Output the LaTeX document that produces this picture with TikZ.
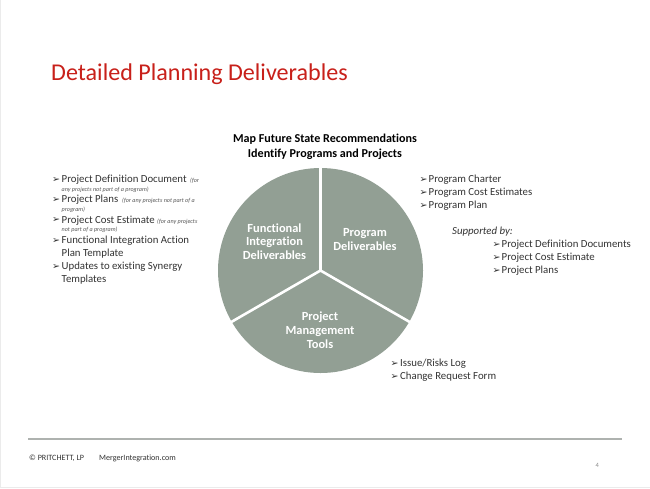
\documentclass[tikz,border=0pt]{standalone}
\usepackage{fontspec}
\usetikzlibrary{calc}
\setmainfont{Carlito}[Ligatures=NoCommon]
\newfontfamily\bulletfont{DejaVu Sans}
\definecolor{pie}{HTML}{929F94}
\definecolor{titlered}{HTML}{C8201A}
\definecolor{bodytext}{HTML}{333333}
\definecolor{notetext}{HTML}{555555}
\definecolor{rulegray}{HTML}{AEB2AF}
\newcommand{\arrowmark}{{\bulletfont\fontsize{9.5}{9.5}\selectfont\char"27A2}}
\tikzset{x=1pt,y=-1pt,
 listitem/.style={anchor=base west,inner sep=0pt,text=bodytext,font=\fontsize{10.8}{12}\selectfont},
 tiny note/.style={anchor=base west,inner sep=0pt,text=notetext,font=\fontsize{6.1}{8}\selectfont\itshape},
 wedge label/.style={align=center,text=white,font=\fontsize{12.4}{13.8}\selectfont\bfseries,inner sep=0pt},
 heading/.style={align=center,text=black,font=\fontsize{12.1}{15}\selectfont\bfseries,inner sep=0pt},
 foot/.style={anchor=base west,inner sep=0pt,text=bodytext,font=\fontsize{8.1}{9}\selectfont},
 divider/.style={draw=white,line width=2.6pt}}
\begin{document}
\begin{tikzpicture}
\useasboundingbox (0,0) rectangle (650,488);
\fill[white] (0,0) rectangle (650,488);
\draw[draw=black!8,line width=0.8pt] (0.4,-1) -- (0.4,487.5) -- (651,487.5);
\node[anchor=base west,inner sep=0pt,text=titlered,font=\fontsize{24.1}{28}\selectfont] (title) at (51,80.5) {Detailed Planning Deliverables};
\node[heading] (head) at (325,146.5) {Map Future State Recommendations\\Identify Programs and Projects};
% pie
\coordinate (hub) at (320.5,270.5);
\fill[pie] (hub) circle (102.5);
\coordinate (spokeA) at ($(hub)+(0,-104)$);
\coordinate (spokeB) at ($(hub)+(90.1,52)$);
\coordinate (spokeC) at ($(hub)+(-90.1,52)$);
\draw[divider] (hub) -- (spokeA);
\draw[divider] (hub) -- (spokeB);
\draw[divider] (hub) -- (spokeC);
\node[wedge label] (func) at (274.5,241.5) {Functional\\Integration\\Deliverables};
\node[wedge label] (prog) at (365,239.5) {Program\\Deliverables};
\node[wedge label] (tools) at (320,330) {Project\\Management\\Tools};
% left list
\node[listitem] (l1m) at (52,182) {\arrowmark};
\node[listitem] (l1) at (61.5,182) {Project Definition Document};
\node[tiny note] (l1n) at (190,182) {(for};
\node[tiny note] (l1b) at (61.5,191.5) {any projects not part of a program)};
\node[listitem] (l2m) at (52,202) {\arrowmark};
\node[listitem] (l2) at (61.5,202.5) {Project Plans};
\node[tiny note] (l2n) at (122,202.5) {(for any projects not part of a};
\node[tiny note] (l2b) at (61.5,211.5) {program)};
\node[listitem] (l3m) at (52,222.5) {\arrowmark};
\node[listitem] (l3) at (61.5,223) {Project Cost Estimate};
\node[tiny note] (l3n) at (157,223) {(for any projects};
\node[tiny note] (l3b) at (61.5,231.5) {not part of a program)};
\node[listitem] (l4m) at (52,243) {\arrowmark};
\node[listitem] (l4) at (61.5,243.5) {Functional Integration Action};
\node[listitem] (l4b) at (61.5,256.5) {Plan Template};
\node[listitem] (l5m) at (52,269) {\arrowmark};
\node[listitem] (l5) at (61.5,269.5) {Updates to existing Synergy};
\node[listitem] (l5b) at (61.5,282.5) {Templates};
% right list
\node[listitem] (r1m) at (419.5,182) {\arrowmark};
\node[listitem] (r1) at (428.5,182) {Program Charter};
\node[listitem] (r2m) at (419.5,195) {\arrowmark};
\node[listitem] (r2) at (428.5,195) {Program Cost Estimates};
\node[listitem] (r3m) at (419.5,208) {\arrowmark};
\node[listitem] (r3) at (428.5,208) {Program Plan};
\node[listitem,font=\fontsize{10.8}{12}\selectfont\itshape] (sup) at (452,234) {Supported by:};
\node[listitem] (s1m) at (492.5,247) {\arrowmark};
\node[listitem] (s1) at (501.5,247) {Project Definition Documents};
\node[listitem] (s2m) at (492.5,260) {\arrowmark};
\node[listitem] (s2) at (501.5,260) {Project Cost Estimate};
\node[listitem] (s3m) at (492.5,273) {\arrowmark};
\node[listitem] (s3) at (501.5,273) {Project Plans};
% bottom list
\node[listitem] (b1m) at (390.5,366) {\arrowmark};
\node[listitem] (b1) at (400,366) {Issue/Risks Log};
\node[listitem] (b2m) at (390.5,379) {\arrowmark};
\node[listitem] (b2) at (400,379) {Change Request Form};
% footer
\draw[rulegray,line width=1.6pt] (28,439) -- (622,439);
\node[foot] (copy) at (29,460) {© PRITCHETT, LP};
\node[foot] (site) at (99,460) {MergerIntegration.com};
\node[anchor=base west,inner sep=0pt,text=black!45,font=\fontsize{6.5}{8}\selectfont] (page) at (595.5,467.5) {4};
\end{tikzpicture}
\end{document}
